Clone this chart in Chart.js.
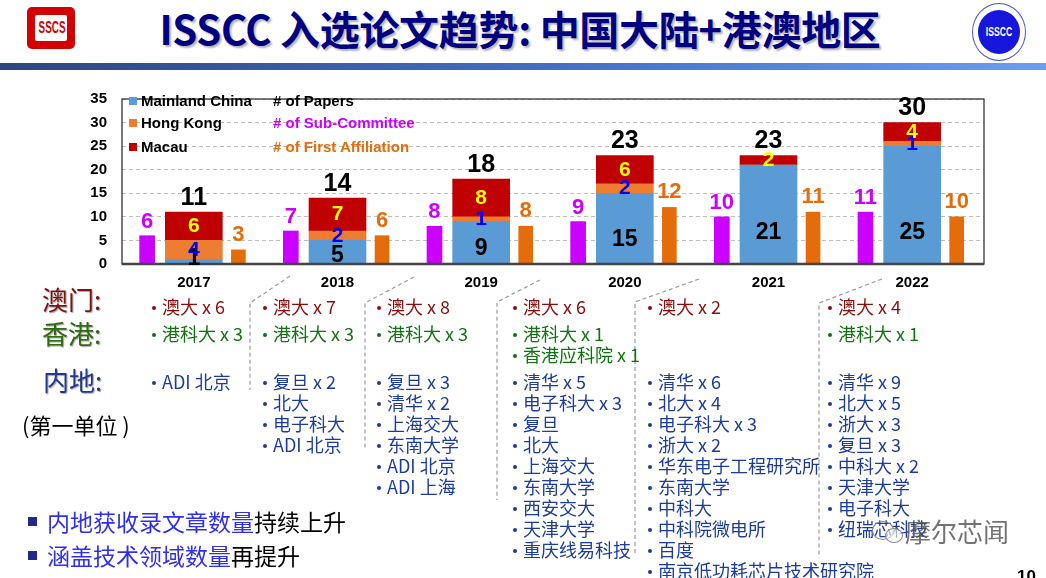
<!DOCTYPE html>
<html><head><meta charset="utf-8">
<script src="https://cdn.jsdelivr.net/npm/chart.js@4.4.0/dist/chart.umd.min.js"></script>
<style>
html,body{margin:0;padding:0;}
body{width:1046px;height:578px;position:relative;overflow:hidden;background:#fff;font-family:"Noto Sans CJK SC","Noto Sans",sans-serif;}
.abs{position:absolute;white-space:nowrap;}
#title{left:-3px;width:1046px;top:5px;text-align:center;font-size:40px;line-height:46px;font-weight:bold;color:#000080;letter-spacing:-0.3px;text-shadow:2px 2px 2px rgba(0,0,0,0.3);}
#gbar{left:0;top:63px;width:1046px;height:7px;background:linear-gradient(to right,#2D4680,#4470C8 55%,#6B9DF3);}
#sscs{left:27px;top:7px;width:48px;height:42px;background:#D20000;border-radius:5px;}
#sscs .in{position:absolute;left:8px;top:8px;width:32px;height:26px;background:#fff;border-radius:2px;overflow:hidden;}
#sscs .t{position:absolute;left:-4px;top:0;width:40px;text-align:center;color:#D20000;font:bold 16px "Liberation Sans",Arial,sans-serif;line-height:26px;transform:scaleX(0.62);}
#sscs .d{position:absolute;width:4px;height:3px;background:#fff;}
#isscc{left:972px;top:3px;width:52px;height:56px;border-radius:50%;border:1px solid #4a55c8;background:#fff;}
#isscc .disc{position:absolute;left:5px;top:6px;width:42px;height:44px;border-radius:50%;background:#1616DD;}
#isscc .t{position:absolute;left:0;top:0;width:42px;text-align:center;color:#fff;font:bold 12px "Liberation Sans",Arial,sans-serif;line-height:44px;transform:scaleX(0.72);}
#chartBox{left:80px;top:75px;width:920px;height:221px;}
.lg{font:bold 15px "Liberation Sans",Arial,sans-serif;line-height:18px;}
.sq{display:inline-block;width:8px;height:8px;margin-right:4px;vertical-align:1px;}
.big{font-size:26px;line-height:30px;text-shadow:1px 1px 1px rgba(0,0,0,0.35);}
.item{font-size:18px;line-height:21px;}
.dot{display:inline-block;width:4px;height:4px;border-radius:50%;background:currentColor;vertical-align:middle;margin-right:6px;position:relative;top:-1px;}
.bb{font-size:23px;line-height:30px;}
</style></head><body>

<div id="title" class="abs">ISSCC 入选论文趋势: 中国大陆+港澳地区</div>
<div id="gbar" class="abs"></div>
<div id="sscs" class="abs"><div class="in"><div class="t">SSCS</div></div></div>
<div id="isscc" class="abs"><div class="disc"><div class="t">ISSCC</div></div></div>

<div id="chartBox" class="abs"><canvas id="c" width="920" height="221"></canvas></div>

<div class="abs lg" style="left:129px;top:92px;"><span class="sq" style="background:#5B9BD5"></span>Mainland China</div>
<div class="abs lg" style="left:129px;top:114px;"><span class="sq" style="background:#ED7D31"></span>Hong Kong</div>
<div class="abs lg" style="left:129px;top:138px;"><span class="sq" style="background:#C00000"></span>Macau</div>
<div class="abs lg" style="left:273px;top:92px;color:#000">#&nbsp;of Papers</div>
<div class="abs lg" style="left:273px;top:114px;color:#CC00FF">#&nbsp;of Sub-Committee</div>
<div class="abs lg" style="left:273px;top:138px;color:#E46C0A">#&nbsp;of First Affiliation</div>

<svg class="abs" style="left:0;top:0" width="1046" height="578">
 <g fill="none" stroke="#9a9a9a" stroke-width="1.2" stroke-dasharray="4 3">
  <polyline points="290,276 250,303 250,390"/>
  <polyline points="414,277 365,303 365,450"/>
  <polyline points="540,280 497,302 497,500"/>
  <polyline points="699,279 635,302 635,553"/>
  <polyline points="882,279 819,303 819,558"/>
 </g>
</svg>

<div class="abs big" style="left:42px;top:284px;color:#7E1214">澳门:</div>
<div class="abs big" style="left:42px;top:318px;color:#2E6B12">香港:</div>
<div class="abs big" style="left:43px;top:365px;color:#22398C">内地:</div>
<div class="abs" style="left:22px;top:409px;font-size:22px;line-height:30px;color:#000">(第一单位 )</div>

<div id="lists"></div>

<div class="abs" style="left:28px;top:517px;width:9px;height:9px;background:#1F2A8C"></div>
<div class="abs bb" style="left:47px;top:506px;"><span style="color:#2F2FEE">内地获收录文章数量</span><span style="color:#000">持续上升</span></div>
<div class="abs" style="left:28px;top:551px;width:9px;height:9px;background:#1F2A8C"></div>
<div class="abs bb" style="left:47px;top:540px;"><span style="color:#2F2FEE">涵盖技术领域数量</span><span style="color:#000">再提升</span></div>

<div class="abs" style="left:872px;top:521px;width:20px;height:17px;border:1.5px solid #888;border-radius:50%;"></div>
<div class="abs" style="left:885px;top:528px;width:16px;height:13px;border:1.5px solid #888;border-radius:50%;background:rgba(255,255,255,0.6)"></div>
<div class="abs" style="left:905px;top:514px;font-size:26px;line-height:34px;color:rgba(90,90,90,0.85);">摩尔芯闻</div>
<div class="abs" style="left:1017px;top:567px;font:bold 17px 'Liberation Sans',Arial,sans-serif;color:#000">10</div>

<script>
// ---- chart data ----
const years = ['2017','2018','2019','2020','2021','2022'];
const mainland = [1, 5, 9, 15, 21, 25];
const hongKong = [4, 2, 1, 2, 0, 1];
const macau = [6, 7, 8, 6, 2, 4];
const subCommittee = [6, 7, 8, 9, 10, 11];
const firstAffiliation = [3, 6, 8, 12, 11, 10];
const yTicks = [0, 5, 10, 15, 20, 25, 30, 35];

// ---- affiliation lists ----
const macauList = [['澳大 x 6'],['澳大 x 7'],['澳大 x 8'],['澳大 x 6'],['澳大 x 2'],['澳大 x 4']];
const hkList = [['港科大 x 3'],['港科大 x 3'],['港科大 x 3'],['港科大 x 1','香港应科院 x 1'],[],['港科大 x 1']];
const mainList = [
  ['ADI 北京'],
  ['复旦 x 2','北大','电子科大','ADI 北京'],
  ['复旦 x 3','清华 x 2','上海交大','东南大学','ADI 北京','ADI 上海'],
  ['清华 x 5','电子科大 x 3','复旦','北大','上海交大','东南大学','西安交大','天津大学','重庆线易科技'],
  ['清华 x 6','北大 x 4','电子科大 x 3','浙大 x 2','华东电子工程研究所','东南大学','中科大','中科院微电所','百度','南京低功耗芯片技术研究院'],
  ['清华 x 9','北大 x 5','浙大 x 3','复旦 x 3','中科大 x 2','天津大学','电子科大','纽瑞芯科技']
];

// ---- build lists ----
const colX = [152, 263, 377, 513, 648, 828];
const lists = document.getElementById('lists');
function addItem(text, x, cy, color){
  const d = document.createElement('div');
  d.className = 'abs item';
  d.style.left = x + 'px';
  d.style.top = (cy - 10.5) + 'px';
  d.style.color = color;
  d.innerHTML = '<span class="dot"></span>' + text;
  lists.appendChild(d);
}
years.forEach((y, i) => {
  macauList[i].forEach((t, k) => addItem(t, colX[i], 306 + k*21, '#8A0E0E'));
  hkList[i].forEach((t, k) => addItem(t, colX[i], 333 + k*21, '#0F740F'));
  mainList[i].forEach((t, k) => addItem(t, colX[i], 381 + k*21, '#1C3C9C'));
});

// ---- chart ----
const FONT = '"Liberation Sans", Arial, sans-serif';
const pts = (arr, off) => arr.map((v, i) => ({x: i + off, y: v}));

const framePlugin = {
  id: 'frame',
  afterDatasetsDraw(chart) {
    const {ctx, chartArea: a} = chart;
    ctx.save();
    ctx.strokeStyle = '#333';
    ctx.lineWidth = 1.3;
    ctx.strokeRect(a.left, a.top, a.right - a.left, a.bottom - a.top);
    ctx.strokeStyle = '#444';
    ctx.lineWidth = 2.5;
    ctx.beginPath(); ctx.moveTo(a.left, a.bottom); ctx.lineTo(a.right, a.bottom); ctx.stroke();
    ctx.restore();
  }
};

const labelPlugin = {
  id: 'labels',
  afterDatasetsDraw(chart) {
    const ctx = chart.ctx, ys = chart.scales.y;
    const mSub = chart.getDatasetMeta(0), mMain = chart.getDatasetMeta(1),
          mHK = chart.getDatasetMeta(2), mMac = chart.getDatasetMeta(3), mAff = chart.getDatasetMeta(4);
    const txt = (s, x, y, color, size) => {
      ctx.save();
      ctx.font = 'bold ' + size + 'px ' + FONT;
      ctx.fillStyle = color; ctx.textAlign = 'center'; ctx.textBaseline = 'middle';
      ctx.fillText(String(s), x, y);
      ctx.restore();
    };
    years.forEach((yr, i) => {
      const em = mMain.data[i];
      const lv = Math.min(Math.max(mainland[i] * 0.35, 1.1), 6.6);
      txt(mainland[i], em.x, ys.getPixelForValue(lv), '#000', 23);
      if (hongKong[i] > 0) {
        const eh = mHK.data[i];
        txt(hongKong[i], eh.x, (eh.y + eh.base) / 2, '#0000FF', 21);
      }
      const ec = mMac.data[i];
      txt(macau[i], ec.x, (ec.y + ec.base) / 2, '#FFFF00', 21);
      txt(mainland[i] + hongKong[i] + macau[i], ec.x, ec.y - 14, '#000', 25);
      const es = mSub.data[i];
      txt(subCommittee[i], es.x, es.y - 14, '#CC00FF', 22);
      const ea = mAff.data[i];
      txt(firstAffiliation[i], ea.x, ea.y - 15, '#E46C0A', 22);
    });
  }
};

new Chart(document.getElementById('c'), {
  type: 'bar',
  data: {
    datasets: [
      {label: '# of Sub-Committee', data: pts(subCommittee, -0.325), backgroundColor: '#CC00FF', stack: 'sub', barThickness: 15, grouped: false},
      {label: 'Mainland China', data: pts(mainland, 0), backgroundColor: '#5B9BD5', stack: 'papers', barThickness: 57, grouped: false},
      {label: 'Hong Kong', data: pts(hongKong, 0), backgroundColor: '#ED7D31', stack: 'papers', barThickness: 57, grouped: false},
      {label: 'Macau', data: pts(macau, 0), backgroundColor: '#C00000', stack: 'papers', barThickness: 57, grouped: false},
      {label: '# of First Affiliation', data: pts(firstAffiliation, 0.31), backgroundColor: '#E46C0A', stack: 'aff', barThickness: 14, grouped: false}
    ]
  },
  options: {
    responsive: false,
    animation: false,
    layout: {padding: {top: 9, right: 16, left: 0, bottom: 0}},
    plugins: {legend: {display: false}, tooltip: {enabled: false}},
    scales: {
      x: {
        type: 'linear', min: -0.5, max: 5.5, offset: false,
        afterBuildTicks: ax => { ax.ticks = years.map((_, i) => ({value: i})); },
        ticks: {callback: v => years[v], font: {family: FONT, size: 15, weight: 'bold'}, color: '#000', padding: 10, autoSkip: false, maxRotation: 0},
        grid: {display: false, drawTicks: false},
        border: {display: false},
        afterFit: s => { s.height = 32; }
      },
      y: {
        stacked: true, min: 0, max: 35,
        afterBuildTicks: ax => { ax.ticks = yTicks.map(v => ({value: v})); },
        ticks: {font: {family: FONT, size: 15, weight: 'bold'}, color: '#000', padding: 15},
        grid: {color: '#BDBDBD', drawTicks: false, lineWidth: 1},
        border: {display: false, dash: [4, 3]},
        afterFit: s => { s.width = 42; }
      }
    }
  },
  plugins: [framePlugin, labelPlugin]
});
</script>
</body></html>
